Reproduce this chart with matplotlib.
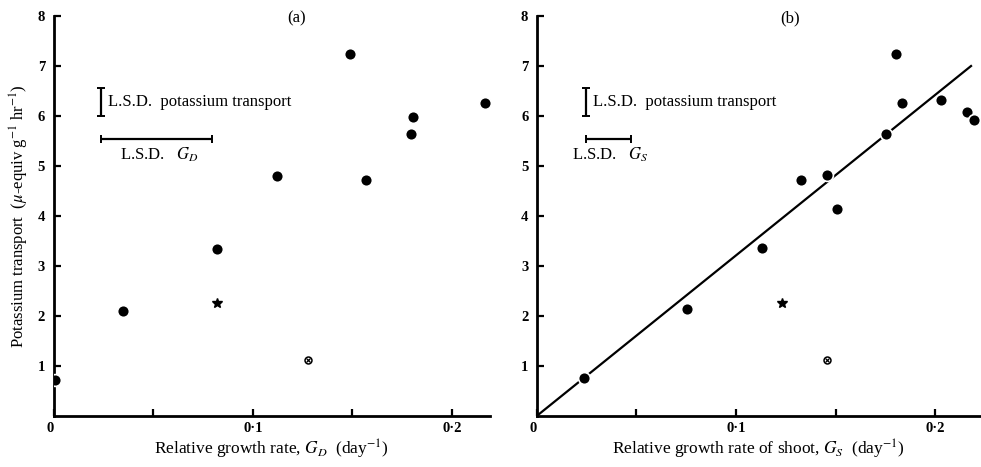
#!/usr/bin/env python3
"""Potassium transport vs relative growth rate, panels (a) and (b)."""

import matplotlib
matplotlib.use("Agg")
import matplotlib.pyplot as plt
import numpy as np

plt.rcParams["font.family"] = ["Liberation Serif", "DejaVu Serif"]
plt.rcParams["mathtext.fontset"] = "stix"

# panel (a): relative growth rate G_D vs potassium transport
gd_a = [0.001, 0.035, 0.082, 0.112, 0.149, 0.157, 0.1795, 0.1805, 0.2167]
k_a = [0.72, 2.09, 3.34, 4.79, 7.24, 4.71, 5.63, 5.97, 6.26]
star_a = (0.082, 2.25)
cross_a = (0.1275, 1.11)

# panel (b): relative growth rate of shoot G_S vs potassium transport
gs_b = [0.0239, 0.0756, 0.1129, 0.1326, 0.1455, 0.1505, 0.1753, 0.1804,
        0.1831, 0.2030, 0.2157, 0.2194]
k_b = [0.75, 2.13, 3.36, 4.71, 4.81, 4.13, 5.63, 7.24, 6.26, 6.31, 6.07, 5.91]
star_b = (0.1229, 2.25)
cross_b = (0.1457, 1.12)
fit_slope = 32.1  # line through origin
fit_xmax = 0.2179

# LSD bars: (x, y_low, y_high) for potassium, (x_lo, x_hi, y) for growth rate
lsd_k_a = (0.024, 6.0, 6.55)
lsd_g_a = (0.024, 0.0795, 5.53)
lsd_k_b = (0.0249, 6.0, 6.55)
lsd_g_b = (0.0246, 0.0472, 5.53)

W, H = 981, 467
fig = plt.figure(figsize=(W / 100, H / 100), dpi=100)
ax_a = fig.add_axes([53.5 / W, 1 - 416 / H, (490 - 53.5) / W, (416 - 15.7) / H])
ax_b = fig.add_axes([536.7 / W, 1 - 416 / H, (980 - 536.7) / W, (416 - 15.7) / H])


def style(ax, xmax):
    ax.set_xlim(0, xmax)
    ax.set_ylim(0, 8)
    for s in ("top", "right"):
        ax.spines[s].set_visible(False)
    for s in ("left", "bottom"):
        ax.spines[s].set_linewidth(2.0)
    ax.set_xticks([0, 0.1, 0.2])
    ax.set_xticklabels(["0", "0·1", "0·2"])
    ax.set_xticks([0.05, 0.15], minor=True)
    ax.set_yticks(range(1, 9))
    ax.tick_params(direction="in", length=5, width=1.6, labelsize=10.5, pad=6)
    ax.tick_params(axis="x", pad=4)
    ax.tick_params(axis="x", which="minor", direction="in", length=5, width=1.6)
    ax.get_xticklabels()[0].set_horizontalalignment("right")
    for lab in ax.get_xticklabels() + ax.get_yticklabels():
        lab.set_fontweight("bold")


def lsd(ax, kbar, gbar, text_g, gx, gy):
    x, y0, y1 = kbar
    ax.errorbar([x], [(y0 + y1) / 2], yerr=[(y1 - y0) / 2], color="black",
                capsize=3, elinewidth=1.6, capthick=1.4, fmt="none")
    ax.text(x + 0.0035, (y0 + y1) / 2, "L.S.D.  potassium transport",
            fontsize=12, va="center", ha="left")
    x0, x1, y = gbar
    ax.errorbar([(x0 + x1) / 2], [y], xerr=[(x1 - x0) / 2], color="black",
                capsize=3, elinewidth=1.6, capthick=1.4, fmt="none")
    ax.text(gx, gy, text_g, fontsize=12, va="center", ha="center")


def points(ax, xs, ys, star, cross):
    ax.plot(xs, ys, "o", color="black", ms=8.5, mec="white", mew=1.2, zorder=4)
    ax.plot([star[0]], [star[1]], "*", color="black", ms=7, zorder=4)
    ax.plot([cross[0]], [cross[1]], "o", mfc="white", mec="black", ms=5,
            mew=1.1, zorder=4)
    ax.plot([cross[0]], [cross[1]], "x", color="black", ms=3, mew=0.9, zorder=5)


# panel (a)
style(ax_a, 0.219)
points(ax_a, gd_a, k_a, star_a, cross_a)
lsd(ax_a, lsd_k_a, lsd_g_a, r"L.S.D.   $G_D$", 0.053, 5.22)
ax_a.text(0.122, 7.95, "(a)", fontsize=12, ha="center", va="center")
ax_a.set_xlabel(r"Relative growth rate, $G_D$  (day$^{-1}$)", fontsize=12.5, labelpad=2)
ax_a.set_ylabel(r"Potassium transport  ($\mu$-equiv g$^{-1}$ hr$^{-1}$)",
                fontsize=12, labelpad=5)

# panel (b)
style(ax_b, 0.2224)
xfit = np.array([0.0, fit_xmax])
ax_b.plot(xfit, fit_slope * xfit, color="black", lw=1.6, zorder=3)
points(ax_b, gs_b, k_b, star_b, cross_b)
lsd(ax_b, lsd_k_b, lsd_g_b, r"L.S.D.   $G_S$", 0.0368, 5.22)
ax_b.text(0.127, 7.95, "(b)", fontsize=12, ha="center", va="center")
ax_b.set_xlabel(r"Relative growth rate of shoot, $G_S$  (day$^{-1}$)",
                fontsize=12.5, labelpad=2)

fig.savefig("out.png", dpi=100)
